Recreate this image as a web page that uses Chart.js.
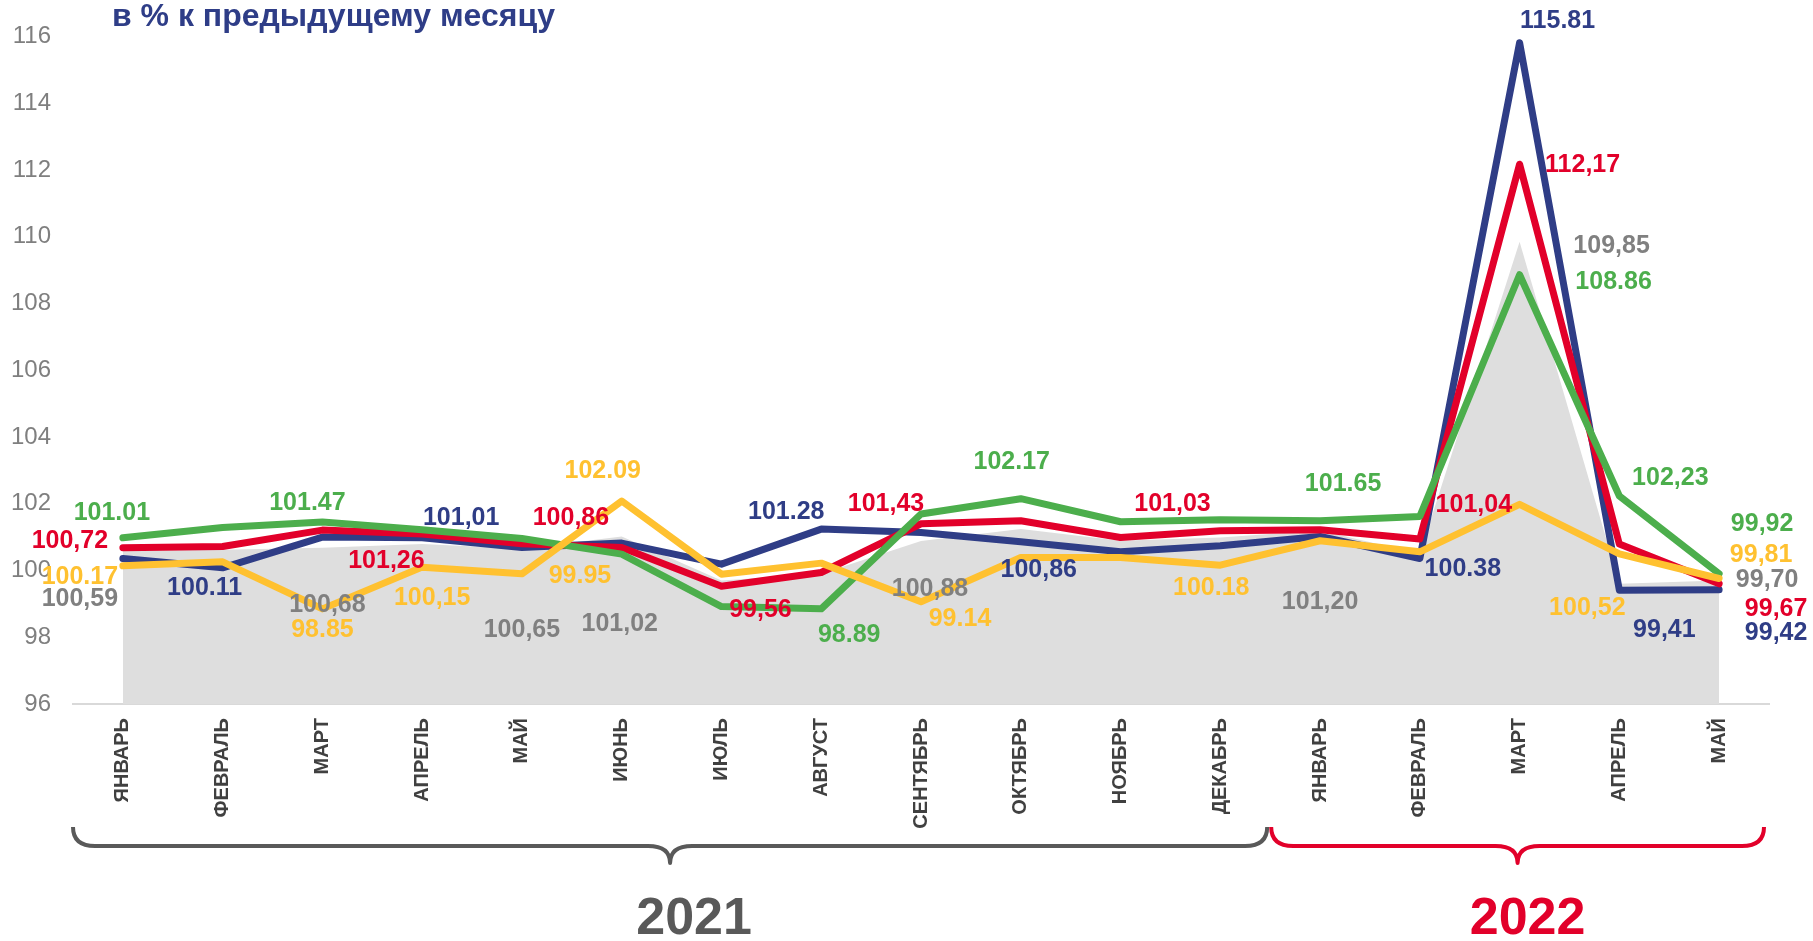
<!DOCTYPE html>
<html>
<head>
<meta charset="utf-8">
<script src="https://cdn.jsdelivr.net/npm/chart.js@4.4.1/dist/chart.umd.min.js"></script>
<style>
  html, body { margin: 0; padding: 0; background: #fff; }
  #wrap { width: 1813px; height: 941px; position: relative; }
</style>
</head>
<body>
<div id="wrap"><canvas id="chart"></canvas></div>
<script>
// months on the x axis
const months = ['ЯНВАРЬ', 'ФЕВРАЛЬ', 'МАРТ', 'АПРЕЛЬ', 'МАЙ', 'ИЮНЬ', 'ИЮЛЬ', 'АВГУСТ', 'СЕНТЯБРЬ',
  'ОКТЯБРЬ', 'НОЯБРЬ', 'ДЕКАБРЬ', 'ЯНВАРЬ', 'ФЕВРАЛЬ', 'МАРТ', 'АПРЕЛЬ', 'МАЙ'];
const years = ['2021', '2022'];
const title = 'в % к предыдущему месяцу';

// values
const gray   = [100.59, 100.62, 100.68, 100.79, 100.65, 101.02, 99.70, 99.90, 100.88, 101.24, 100.89, 100.99, 101.20, 100.50, 109.85, 99.60, 99.70];
const blue   = [100.36, 100.08, 101.00, 100.98, 100.69, 100.82, 100.19, 101.24, 101.14, 100.86, 100.56, 100.74, 101.02, 100.36, 115.81, 99.41, 99.42];
const red    = [100.68, 100.72, 101.21, 101.09, 100.80, 100.69, 99.53, 99.94, 101.40, 101.49, 100.99, 101.19, 101.22, 100.94, 112.17, 100.79, 99.60];
const green  = [100.98, 101.29, 101.45, 101.22, 100.96, 100.49, 98.92, 98.85, 101.69, 102.15, 101.46, 101.52, 101.49, 101.62, 108.86, 102.23, 99.90];
const yellow = [100.14, 100.26, 98.85, 100.10, 99.90, 102.08, 99.89, 100.22, 99.06, 100.39, 100.39, 100.16, 100.89, 100.56, 101.98, 100.50, 99.76];

// label texts as printed on the chart
const grayLabels   = ['100,59', null, '100,68', null, '100,65', '101,02', null, null, '100,88', null, null, null, '101,20', null, '109,85', null, '99,70'];
const blueLabels   = [null, '100.11', null, '101,01', null, null, null, '101.28', null, '100,86', null, null, null, '100.38', '115.81', '99,41', '99,42'];
const redLabels    = ['100,72', null, '101,26', null, '100,86', null, '99,56', null, '101,43', null, '101,03', null, null, '101,04', '112,17', null, '99,67'];
const greenLabels  = ['101.01', null, '101.47', null, null, null, null, '98.89', null, '102.17', null, null, '101.65', null, '108.86', '102,23', '99,92'];
const yellowLabels = ['100.17', null, '98.85', '100,15', '99.95', '102.09', null, null, '99.14', null, null, '100.18', null, null, null, '100,52', '99,81'];

const FONT = '"Liberation Sans", Arial, sans-serif';
const C = {
  gray: '#808080', fill: '#dedede', blue: '#2f3d86', red: '#e2002a',
  green: '#4cae4c', yellow: '#ffc130', title: '#2e3d87', y2021: '#595959'
};

// pixel offsets of each label from its point
const offsets = {
  gray:   { 0: [-43, 48], 2: [5, 57], 4: [0, 81], 5: [-2, 88], 8: [9, 48], 12: [0, 72], 14: [92, 4], 16: [48, 0] },
  blue:   { 1: [-18, 20], 3: [39, -20], 7: [-35, -17], 9: [18, 28], 13: [43, 11], 14: [38, -22], 15: [45, 40], 16: [57, 43] },
  red:    { 0: [-53, -7], 2: [64, 31], 4: [49, -26], 6: [39, 24], 8: [-35, -20], 10: [52, -33], 13: [54, -34], 14: [63, 1], 16: [57, 25] },
  green:  { 0: [-11, -25], 2: [-15, -19], 7: [28, 26], 9: [-9, -37], 12: [23, -37], 14: [94, 7], 15: [51, -18], 16: [43, -50] },
  yellow: { 0: [-43, 11], 2: [0, 21], 3: [10, 31], 4: [58, 2], 5: [-19, -30], 8: [39, 17], 11: [-9, 23], 15: [-32, 54], 16: [42, -23] }
};

const labelSets = [
  { values: gray, texts: grayLabels, color: C.gray, off: offsets.gray },
  { values: blue, texts: blueLabels, color: C.blue, off: offsets.blue },
  { values: red, texts: redLabels, color: C.red, off: offsets.red },
  { values: green, texts: greenLabels, color: C.green, off: offsets.green },
  { values: yellow, texts: yellowLabels, color: C.yellow, off: offsets.yellow }
];

const valueLabels = {
  id: 'valueLabels',
  afterDatasetsDraw(chart) {
    const ctx = chart.ctx, xs = chart.scales.x, ys = chart.scales.y;
    ctx.save();
    ctx.font = 'bold 25px ' + FONT;
    ctx.textAlign = 'center';
    ctx.textBaseline = 'middle';
    labelSets.forEach(s => {
      ctx.fillStyle = s.color;
      s.texts.forEach((t, i) => {
        if (!t) return;
        const o = s.off[i] || [0, -20];
        ctx.fillText(t, xs.getPixelForValue(i) + o[0], ys.getPixelForValue(s.values[i]) + o[1]);
      });
    });
    ctx.restore();
  }
};

function drawBrace(ctx, x1, x2, top, color) {
  const xc = (x1 + x2) / 2, yTop = top, yMid = top + 19, yTip = top + 36, r = 22;
  ctx.strokeStyle = color;
  ctx.lineWidth = 4;
  ctx.lineJoin = 'round';
  ctx.beginPath();
  ctx.moveTo(x1, yTop);
  ctx.quadraticCurveTo(x1, yMid, x1 + r, yMid);
  ctx.lineTo(xc - r, yMid);
  ctx.quadraticCurveTo(xc, yMid, xc, yTip);
  ctx.quadraticCurveTo(xc, yMid, xc + r, yMid);
  ctx.lineTo(x2 - r, yMid);
  ctx.quadraticCurveTo(x2, yMid, x2, yTop);
  ctx.stroke();
  return xc;
}

const decorations = {
  id: 'decorations',
  afterDraw(chart) {
    const ctx = chart.ctx, xs = chart.scales.x, area = chart.chartArea;
    ctx.save();
    // title
    ctx.font = 'bold 32px ' + FONT;
    ctx.fillStyle = C.title;
    ctx.textAlign = 'left';
    ctx.textBaseline = 'alphabetic';
    ctx.fillText(title, 112, 26);

    // year braces
    const split = (xs.getPixelForValue(11) + xs.getPixelForValue(12)) / 2;
    const top = area.bottom + 123;
    const c1 = drawBrace(ctx, area.left, split - 3, top, C.y2021);
    const c2 = drawBrace(ctx, split + 1, area.right - 5, top, C.red);

    ctx.font = 'bold 52px ' + FONT;
    ctx.textAlign = 'center';
    ctx.textBaseline = 'middle';
    ctx.fillStyle = C.y2021;
    ctx.fillText(years[0], c1 + 24, area.bottom + 216);
    ctx.fillStyle = C.red;
    ctx.fillText(years[1], c2 + 10, area.bottom + 216);
    ctx.restore();
  }
};

const line = (data, color, order) => ({
  data: data,
  borderColor: color,
  borderWidth: 7,
  borderJoinStyle: 'round',
  borderCapStyle: 'round',
  pointRadius: 0,
  tension: 0,
  fill: false,
  order: order
});

new Chart(document.getElementById('chart'), {
  type: 'line',
  data: {
    labels: months,
    datasets: [
      { data: gray, backgroundColor: C.fill, borderWidth: 0, pointRadius: 0, fill: 'start', order: 5 },
      line(blue, C.blue, 4),
      line(red, C.red, 3),
      line(green, C.green, 2),
      line(yellow, C.yellow, 1)
    ]
  },
  options: {
    responsive: true,
    maintainAspectRatio: false,
    animation: false,
    layout: { padding: { top: 34, bottom: 97, right: 44, left: 0 } },
    plugins: { legend: { display: false }, tooltip: { enabled: false } },
    scales: {
      x: {
        offset: true,
        grid: { display: false, drawTicks: false, tickLength: 0 },
        border: { display: true, color: '#d9d9d9', width: 2 },
        ticks: {
          autoSkip: false, minRotation: 90, maxRotation: 90, padding: 14,
          color: '#404040', font: { family: FONT, size: 20, weight: 'bold' }
        },
        afterFit(s) { s.height = 140; }
      },
      y: {
        min: 96, max: 116,
        grid: { display: false, drawTicks: false, tickLength: 0 },
        border: { display: false },
        ticks: { stepSize: 2, padding: 22, color: '#7f7f7f', font: { family: FONT, size: 24 } },
        afterFit(s) { s.width = 73; }
      }
    }
  },
  plugins: [valueLabels, decorations]
});
</script>
</body>
</html>
